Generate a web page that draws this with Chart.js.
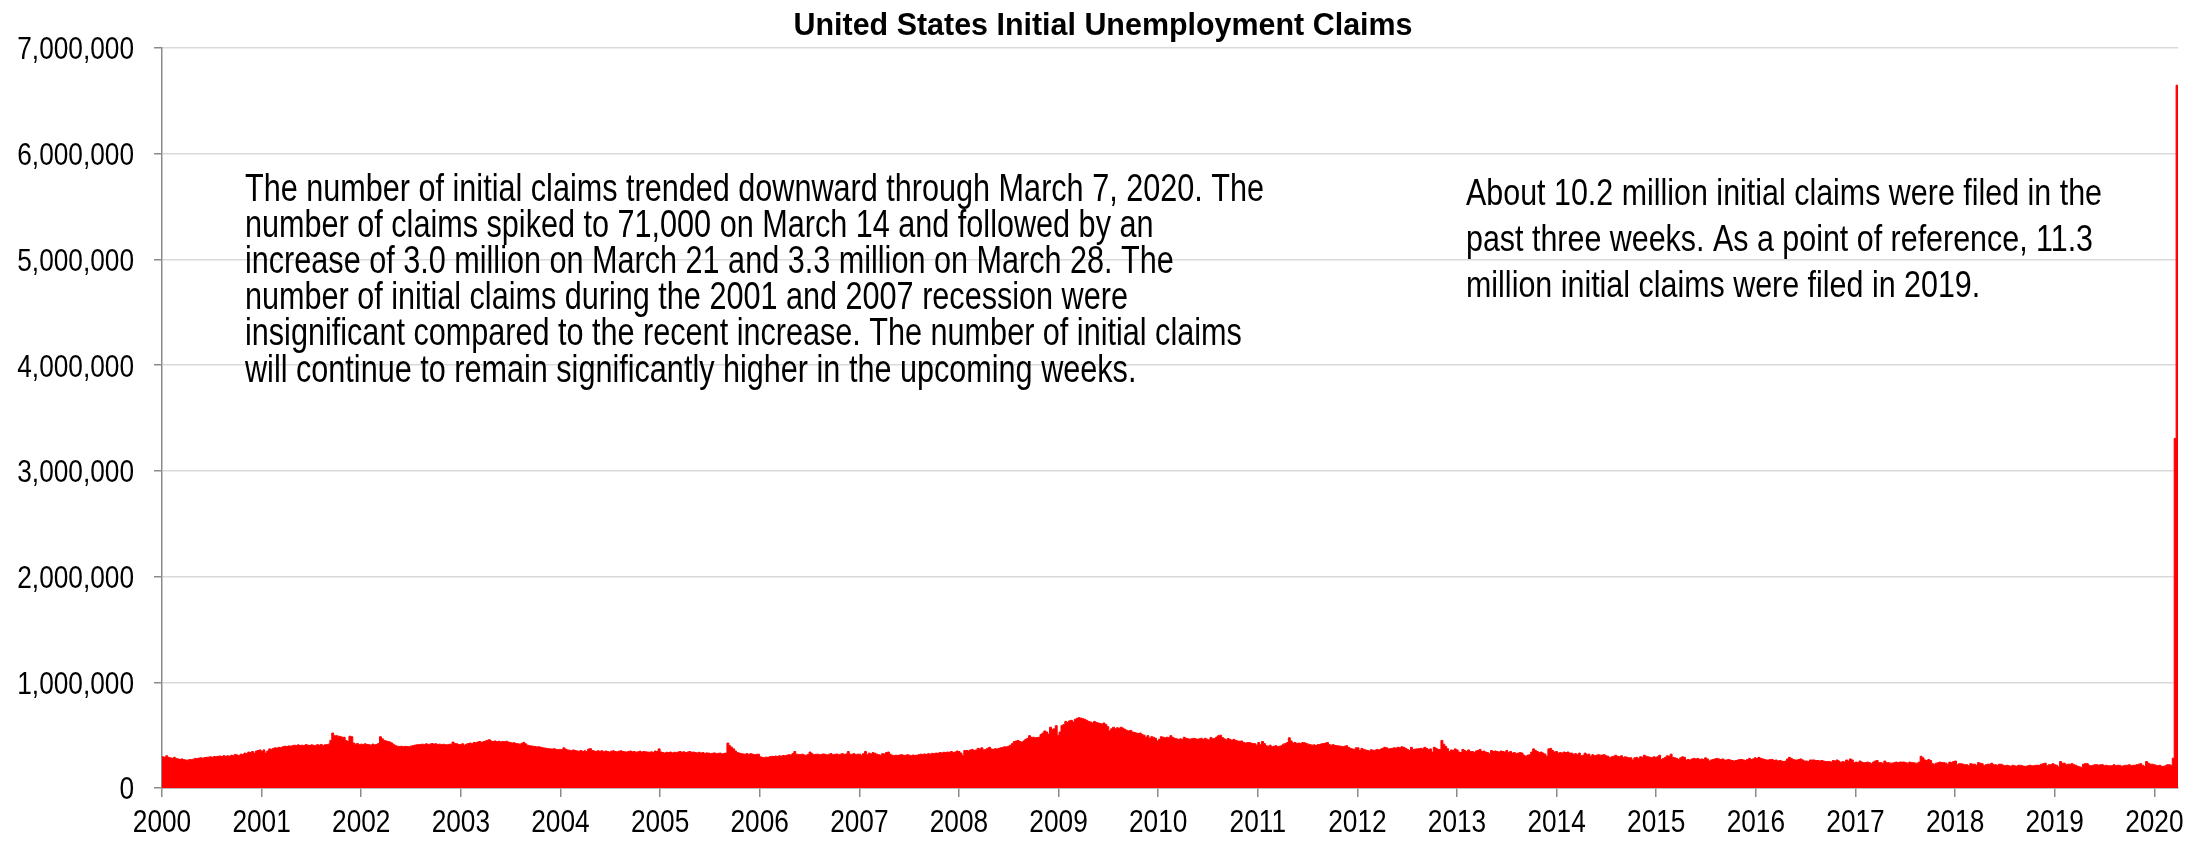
<!DOCTYPE html>
<html>
<head>
<meta charset="utf-8">
<script src="https://cdn.jsdelivr.net/npm/chart.js@4.4.1/dist/chart.umd.min.js"></script>
<style>
html,body{margin:0;padding:0;background:#ffffff;}
#wrap{width:2208px;height:842px;position:relative;}
</style>
</head>
<body>
<div id="wrap"><canvas id="c" width="2208" height="842"></canvas></div>
<script>
// Weekly initial claims (thousands), week ending Saturday, one array per year
const claims2000 = [300,295,290,305,290, 285,280,290,280, 275,270,275,268, 265,262,270,268,272, 280,278,283,285, 282,288,290,292, 295,290,298,296,300, 302,298,305,300, 305,300,310,305,318, 312,305,320,316, 330,325,340,335, 345,330,350,355,360];
const claims2001 = [345,360,330,350, 370,365,375,380, 378,385,380,390,395, 392,398,395,400, 405,400,408,402, 405,400,410,406,402, 408,404,400,410, 405,412,400,408, 410,415,450,520,495, 495,490,488,480, 480,450,440,490, 485,425,415,420,410];
const claims2002 = [415,410,418,412, 410,405,415,408, 412,420,485,465,450, 445,440,435,425, 410,400,395,392, 395,390,394,392,390, 396,400,405,408, 410,412,415,410,418, 412,415,420,416, 418,412,415,410, 414,410,408,412,415, 435,420,418,412];
const claims2003 = [410,418,405,415, 420,425,418,430, 428,435,440,432,438, 445,450,457,445, 440,445,438,442,436, 440,438,442,435, 430,425,428,420, 418,415,420,432,418, 405,400,398,395, 392,388,390,385, 380,378,375,372,370, 368,372,365,362];
const claims2004 = [365,362,380,368,360, 358,352,360,355, 350,348,355,345, 352,345,368,372, 355,350,345,352,348, 352,342,350,345, 340,348,352,345,342, 348,352,345,342, 340,345,350,342, 345,338,342,348,340, 345,342,340,338, 342,336,350,345];
const claims2005 = [370,340,335,330,338, 335,340,332,338, 335,340,345,338, 342,335,340,345,338, 340,335,332,338, 330,335,328,332, 330,325,328,332,325, 328,330,322,326, 330,425,400,385, 370,350,335,330,325, 322,320,325,318, 325,320,315,318,320];
const claims2006 = [295,290,285,292, 290,295,300,298, 302,298,305,300, 308,305,310,315,312, 325,345,320,318, 315,320,312,310, 318,340,325,315,318, 320,315,318,322, 318,312,320,325,315, 318,322,315,320, 325,318,322,345, 320,318,325,315,320];
const claims2007 = [320,310,325,345, 315,330,322,335, 328,320,315,310,325, 322,335,340,320, 310,305,310,308, 312,315,310,308,315, 310,305,312,308, 310,315,320,318, 322,318,325,320,328, 325,330,328,335, 332,338,335,340, 338,345,335,340,350];
const claims2008 = [345,330,310,355, 355,350,360,365, 355,360,375,370,380, 360,365,375,385, 370,365,372,368,375, 380,385,390,388, 395,405,420,440, 445,450,440,432,445, 460,470,495,480, 480,475,478,480, 505,520,540,530,510, 575,555,560,590];
const claims2009 = [500,530,590,600,630, 620,635,640,625, 650,660,665,660, 655,650,640,630, 625,615,630,620,615, 610,605,615,600, 580,540,560,575, 560,570,565,575,565, 555,545,540,545, 530,525,520,515,520, 505,500,480,495, 470,485,480,470];
const claims2010 = [445,460,485,480,475, 480,475,495,480, 470,465,460,465, 460,480,470,465, 462,465,470,465,460, 465,470,460,470, 462,455,478,465,468, 482,495,500,478, 465,455,468,460, 452,460,450,445,442, 445,432,425,428, 430,425,420,418];
const claims2011 = [405,430,410,440,420, 400,395,405,390, 395,400,390,395, 400,415,420,430,475, 445,425,430,422, 425,420,430,428, 420,415,410,405,408, 402,410,412,418, 420,425,430,410, 405,410,402,400,398, 395,390,395,400, 385,375,370,365,380];
const claims2012 = [380,355,375,365, 360,355,350,362, 355,358,365,360,368, 375,385,380,370, 372,375,380,378, 385,380,390,385,375, 365,355,385,365, 368,370,372,375, 370,385,375,365,370, 340,385,375,365, 365,450,415,395, 372,345,360,355,370];
const claims2013 = [360,340,335,365, 355,345,360,345, 345,335,350,355,365, 345,350,340,335, 325,355,345,350, 345,340,350,345,340, 355,335,345,330, 335,325,330,335,330, 310,300,310,315, 340,370,355,345, 335,340,330,320,300, 370,375,355,340];
const claims2014 = [345,330,335,330, 340,335,340,330, 330,320,325,315,330, 305,310,330,315, 320,300,315,305,310, 315,310,312,315, 305,300,285,295, 300,310,300,295,305, 290,295,290,285, 285,265,285,290, 280,295,290,310,300, 295,290,285,295];
const claims2015 = [290,295,310,270,280, 290,305,300,320, 290,285,280,270, 285,295,290,265, 270,265,275,280,275, 280,270,275,270, 285,275,255,265, 270,275,280,275,270, 275,265,265,270, 265,260,255,260,265, 270,270,265,260, 270,280,270,275];
const claims2016 = [285,280,290,280,275, 270,265,265,270, 270,260,265,255, 260,255,250,255,275, 290,280,270,265, 265,270,275,265, 255,255,250,265,265, 265,260,260,255, 260,255,250,250, 250,245,260,255,265, 255,240,250,245, 265,255,275,265,240];
const claims2017 = [245,240,255,245, 240,240,245,240, 230,245,255,260, 240,240,235,255,240, 240,235,235,240, 245,240,245,245, 245,240,235,245,240, 240,235,235,245, 300,285,265,260,270, 260,230,225,235, 240,245,240,240, 235,225,245,240,250];
const claims2018 = [255,220,230,230, 225,220,220,210, 230,225,225,215,240, 235,230,210,220, 225,225,235,220, 220,215,225,225,215, 210,215,210,205, 215,210,205,215, 215,210,205,205,210, 215,210,210,215, 215,215,225,230, 235,210,220,220,230];
const claims2019 = [220,215,200,250, 235,235,220,225, 225,230,220,215,205, 200,195,225,230, 230,215,210,215, 220,220,215,220,220, 210,215,210,210, 210,220,210,215,215, 205,210,215,215, 220,210,215,215, 220,225,230,215,205, 250,235,225,225];
const claims2020 = [220,215,210,215, 205,205,210,220,220, 215,282,3307,6648];

const dataYears = [2000,2001,2002,2003,2004,2005,2006,2007,2008,2009,2010,2011,2012,2013,2014,2015,2016,2017,2018,2019,2020];
const yearlyClaims = [claims2000,claims2001,claims2002,claims2003,claims2004,claims2005,claims2006,claims2007,claims2008,claims2009,claims2010,claims2011,claims2012,claims2013,claims2014,claims2015,claims2016,claims2017,claims2018,claims2019,claims2020];

const xTickYears = [2000,2001,2002,2003,2004,2005,2006,2007,2008,2009,2010,2011,2012,2013,2014,2015,2016,2017,2018,2019,2020];
const yTickValues = [0,1000000,2000000,3000000,4000000,5000000,6000000,7000000];

const chartTitle = 'United States Initial Unemployment Claims';
const leftNote = [
  'The number of initial claims trended downward through March 7, 2020. The',
  'number of claims spiked to 71,000 on March 14 and followed by an',
  'increase of 3.0 million on March 21 and 3.3 million on March 28. The',
  'number of initial claims during the 2001 and 2007 recession were',
  'insignificant compared to the recent increase. The number of initial claims',
  'will continue to remain significantly higher in the upcoming weeks.'
];
const rightNote = [
  'About 10.2 million initial claims were filed in the',
  'past three weeks. As a point of reference, 11.3',
  'million initial claims were filed in 2019.'
];

// Build points: x = fractional year of each week-ending Saturday
const DAY = 86400000;
const points = [];
dataYears.forEach((yr, k) => {
  const jan1 = Date.UTC(yr, 0, 1);
  const dow = new Date(jan1).getUTCDay();
  const first = jan1 + ((6 - dow + 7) % 7) * DAY;
  yearlyClaims[k].forEach((v, i) => {
    const t = first + i * 7 * DAY;
    const d = new Date(t);
    const y = d.getUTCFullYear();
    const y0 = Date.UTC(y, 0, 1), y1 = Date.UTC(y + 1, 0, 1);
    points.push({ x: y + (t - y0) / (y1 - y0), y: v * 1000 });
  });
});
const lastX = points[points.length - 1].x;

const FAMILY = "'Liberation Sans', Arial, sans-serif";
const axisGray = '#8a8a8a';
const fmtY = v => Number(v).toLocaleString('en-US');
const fmtX = v => String(v);

// Draw text horizontally condensed (the original uses a narrow face)
function condensedText(ctx, text, x, y, sx, align) {
  ctx.save();
  ctx.translate(x, y);
  ctx.scale(sx, 1);
  ctx.textAlign = align;
  ctx.fillText(text, 0, 0);
  ctx.restore();
}

function drawBlock(ctx, lines, x, y0, lh, targetWidth, size) {
  ctx.font = size + 'px ' + FAMILY;
  const sx = targetWidth / ctx.measureText(lines[0]).width;
  lines.forEach((t, i) => condensedText(ctx, t, x, y0 + i * lh, sx, 'left'));
}

const textPlugin = {
  id: 'texts',
  afterDraw(chart) {
    const ctx = chart.ctx;
    const xs = chart.scales.x, ys = chart.scales.y;
    ctx.save();
    ctx.fillStyle = '#000000';
    ctx.textBaseline = 'alphabetic';

    // title
    ctx.font = 'bold 32px ' + FAMILY;
    const tsx = 619 / ctx.measureText(chartTitle).width;
    condensedText(ctx, chartTitle, 1103, 35, tsx, 'center');

    // tick labels
    ctx.font = '32px ' + FAMILY;
    yTickValues.forEach(v => {
      condensedText(ctx, fmtY(v), ys.left + ys.width - 28, ys.getPixelForValue(v) + 11.4, 0.82, 'right');
    });
    xTickYears.forEach(v => {
      condensedText(ctx, fmtX(v), xs.getPixelForValue(v), 832, 0.82, 'center');
    });

    // notes
    drawBlock(ctx, leftNote, 245, 201, 36.1, 1019, 38);
    drawBlock(ctx, rightNote, 1466, 205, 46, 636, 37);
    ctx.restore();
  }
};

new Chart(document.getElementById('c'), {
  type: 'line',
  data: {
    datasets: [{
      label: 'Initial claims',
      data: points,
      stepped: 'after',
      fill: 'origin',
      backgroundColor: '#ff0000',
      borderColor: '#ff0000',
      borderWidth: 1,
      pointRadius: 0,
      tension: 0
    }]
  },
  options: {
    responsive: false,
    animation: false,
    events: [],
    layout: { padding: { top: 48, right: 30, bottom: 0, left: 30 } },
    plugins: {
      legend: { display: false },
      tooltip: { enabled: false },
      title: { display: false, text: chartTitle }
    },
    scales: {
      x: {
        type: 'linear',
        min: 2000,
        max: lastX,
        afterBuildTicks: s => { s.ticks = xTickYears.map(v => ({ value: v })); },
        afterFit: s => { s.height = 54; },
        ticks: { display: false, callback: fmtX },
        grid: { display: true, drawOnChartArea: false, drawTicks: true, tickLength: 9, color: axisGray, tickColor: axisGray, lineWidth: 1.5 },
        border: { display: true, color: axisGray, width: 1.5 }
      },
      y: {
        min: 0,
        max: 7000000,
        afterBuildTicks: s => { s.ticks = yTickValues.map(v => ({ value: v })); },
        afterFit: s => { s.width = 132; },
        ticks: { display: false, callback: fmtY },
        grid: { color: '#d9d9d9', lineWidth: 1.5, drawTicks: true, tickLength: 8, tickColor: axisGray, tickWidth: 1.5 },
        border: { display: true, color: axisGray, width: 1.5 }
      }
    }
  },
  plugins: [textPlugin]
});
</script>
</body>
</html>
